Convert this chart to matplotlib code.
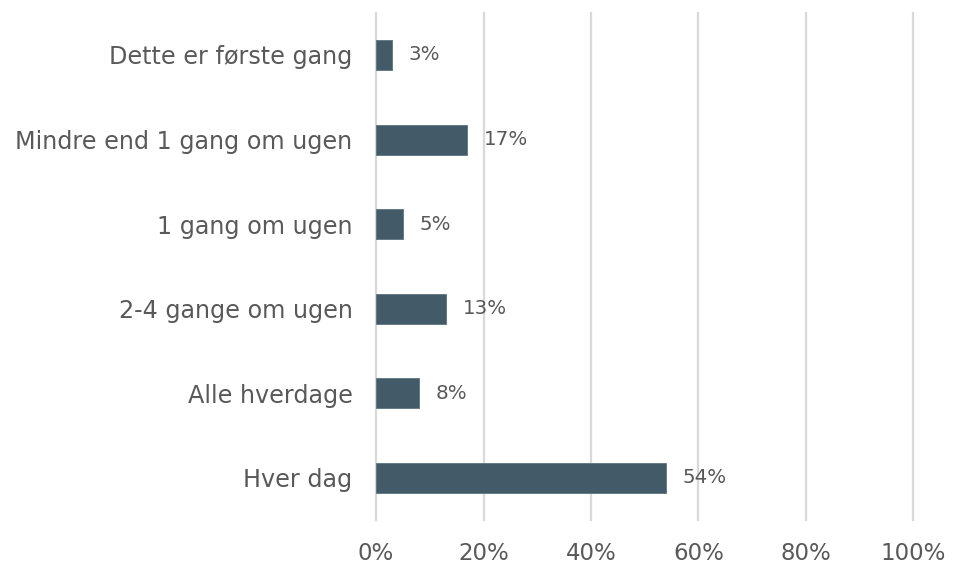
import matplotlib.pyplot as plt
from matplotlib.ticker import FuncFormatter

plt.rcParams['font.family'] = ['DejaVu Sans']

# Data (top to bottom as shown)
categories = ['Dette er første gang', 'Mindre end 1 gang om ugen', '1 gang om ugen',
              '2-4 gange om ugen', 'Alle hverdage', 'Hver dag']
values = [3, 17, 5, 13, 8, 54]
value_labels = ['3%', '17%', '5%', '13%', '8%', '54%']
x_ticks = [0, 20, 40, 60, 80, 100]

BAR_COLOR = '#435a68'
TEXT_COLOR = '#595959'

fig = plt.figure(figsize=(9.63, 5.64), dpi=100)
ax = fig.add_axes([0.3905, 0.078, 0.558, 0.8995])

y_pos = list(range(len(categories)))[::-1]
ax.barh(y_pos, values, height=0.355, color=BAR_COLOR, edgecolor='#5c7280',
        linewidth=0.6, zorder=3)

for y, v, lab in zip(y_pos, values, value_labels):
    ax.text(v + 3.1, y, lab, va='center', ha='left', fontsize=14.3,
            color=TEXT_COLOR)

for t in x_ticks:
    ax.axvline(t, color='#d9d9d9', linewidth=1.6, zorder=0, clip_on=False)

ax.set_xlim(0, 100)
ax.set_ylim(-0.5, len(categories) - 0.5)
ax.set_xticks(x_ticks)
ax.xaxis.set_major_formatter(FuncFormatter(lambda x, _: f'{x:.0f}%'))
ax.set_yticks(y_pos)
ax.set_yticklabels(categories)

for s in ax.spines.values():
    s.set_visible(False)
ax.tick_params(axis='both', length=0, colors=TEXT_COLOR)
ax.tick_params(axis='y', pad=17, labelsize=17.2)
ax.tick_params(axis='x', pad=16, labelsize=16.5)

fig.savefig('out.png', dpi=100)
